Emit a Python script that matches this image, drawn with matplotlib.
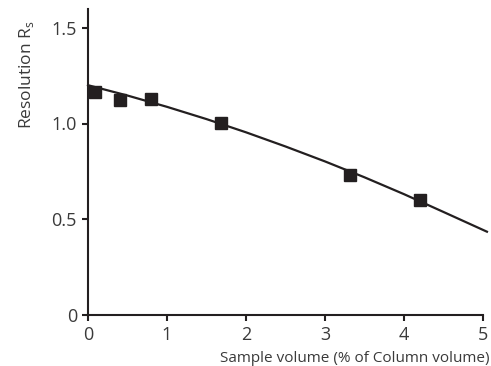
import numpy as np
import matplotlib
matplotlib.use('Agg')
import matplotlib.pyplot as plt
from matplotlib import rcParams

rcParams['font.family'] = ['Open Sans', 'DejaVu Sans']

# measured points
vol_pct = [0.09, 0.41, 0.80, 1.68, 3.32, 4.20]
resolution = [1.165, 1.123, 1.128, 1.001, 0.730, 0.600]

# fitted trend curve
curve_x = [0.0, 0.5, 1.0, 1.5, 2.0, 2.5, 3.0, 3.5, 4.0, 4.5, 5.05]
curve_y = [1.200, 1.146, 1.087, 1.023, 0.954, 0.880, 0.802, 0.719, 0.631, 0.538, 0.435]

xticks = [0, 1, 2, 3, 4, 5]
yticks = [0, 0.5, 1.0, 1.5]
yticklabels = ['0', '0.5', '1.0', '1.5']

ink = '#231f20'
txt = '#3a3a3a'

fig = plt.figure(figsize=(4.91, 3.66), dpi=100)
ax = fig.add_axes([88 / 491, 1 - 315 / 366, 395 / 491, 306.4 / 366])

ax.plot(curve_x, curve_y, color=ink, linewidth=1.6, clip_on=False, zorder=2)
ax.plot(vol_pct, resolution, linestyle='none', marker='s', markersize=8.6,
        color=ink, clip_on=False, zorder=3)

ax.set_xlim(0, 5)
ax.set_ylim(0, 1.6)
ax.set_xticks(xticks)
ax.set_yticks(yticks)
ax.set_yticklabels(yticklabels)

for side in ['top', 'right']:
    ax.spines[side].set_visible(False)
for side in ['left', 'bottom']:
    ax.spines[side].set_linewidth(1.5)
    ax.spines[side].set_color(ink)

ax.tick_params(direction='out', length=4, width=1.5, color=ink,
               labelsize=13, labelcolor=txt)
ax.tick_params(axis='x', pad=4)
ax.tick_params(axis='y', pad=4)

fig.text(27 / 491, 1 - 75 / 366, 'Resolution R$_\\mathregular{s}$', rotation=90,
         ha='center', va='center', fontsize=12.5, color=txt)
fig.text(490 / 491, 1 - 358 / 366, 'Sample volume (% of Column volume)',
         ha='right', va='center', fontsize=11, color=txt)

plt.savefig('out.png', dpi=100)
print('Saved: out.png')
